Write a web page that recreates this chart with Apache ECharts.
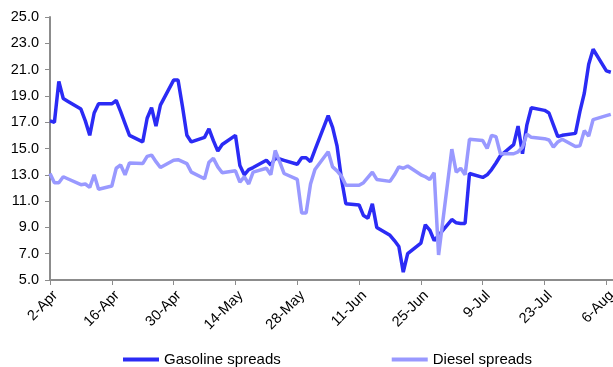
<!DOCTYPE html>
<html>
<head>
<meta charset="utf-8">
<script src="https://cdn.jsdelivr.net/npm/echarts@6/dist/echarts.min.js"></script>
<style>
  html, body { margin: 0; padding: 0; background: #fff; }
  #chart { width: 613px; height: 367px; }
</style>
</head>
<body>
<div id="chart"></div>
<script>
// trading days, 2012
const dates = [
  '2-Apr', '3-Apr', '4-Apr', '5-Apr', '6-Apr', '9-Apr', '10-Apr', '11-Apr', '12-Apr', '13-Apr',
  '16-Apr', '17-Apr', '18-Apr', '19-Apr', '20-Apr', '23-Apr', '24-Apr', '25-Apr', '26-Apr', '27-Apr', '30-Apr',
  '1-May', '2-May', '3-May', '4-May', '7-May', '8-May', '9-May', '10-May', '11-May',
  '14-May', '15-May', '16-May', '17-May', '18-May', '21-May', '22-May', '23-May', '24-May', '25-May',
  '28-May', '29-May', '30-May', '31-May',
  '1-Jun', '4-Jun', '5-Jun', '6-Jun', '7-Jun', '8-Jun', '11-Jun', '12-Jun', '13-Jun', '14-Jun', '15-Jun',
  '18-Jun', '19-Jun', '20-Jun', '21-Jun', '22-Jun', '25-Jun', '26-Jun', '27-Jun', '28-Jun', '29-Jun',
  '2-Jul', '3-Jul', '4-Jul', '5-Jul', '6-Jul', '9-Jul', '10-Jul', '11-Jul', '12-Jul', '13-Jul',
  '16-Jul', '17-Jul', '18-Jul', '19-Jul', '20-Jul', '23-Jul', '24-Jul', '25-Jul', '26-Jul', '27-Jul',
  '30-Jul', '31-Jul',
  '1-Aug', '2-Aug', '3-Aug', '6-Aug', '7-Aug'
];

const gasoline = [
  17.1, 17.0, 20.1, 18.8, 18.6, 18.0, 17.1, 16.0, 17.7, 18.4,
  18.4, 18.65, 17.8, 16.9, 16.0, 15.5, 17.3, 18.1, 16.7, 18.3, 20.2,
  20.2, 18.2, 16.0, 15.5, 15.85, 16.5, 15.6, 14.8, 15.3,
  16.0, 13.7, 13.0, 13.4, 13.55, 14.1, 13.75, 14.25, 14.2, 14.1,
  13.8, 14.3, 14.3, 14.0,
  14.9, 17.5, 16.6, 15.2, 12.7, 10.8, 10.7, 9.9, 9.7, 10.8, 9.0,
  8.4, 8.0, 7.55, 5.6, 7.0, 7.8, 9.2, 8.8, 8.0, 8.4,
  9.6, 9.35, 9.3, 9.3, 13.1, 12.8, 13.0, 13.4, 13.9, 14.45,
  15.3, 16.7, 14.6, 16.8, 18.1, 17.9, 17.7, 16.8, 15.9, 16.0,
  16.15, 17.8,
  19.2, 21.4, 22.55, 20.9, 20.8
];

const diesel = [
  13.1, 12.4, 12.4, 12.85, 12.7, 12.25, 12.3, 12.05, 13.0, 11.9,
  12.15, 13.5, 13.75, 13.0, 13.9, 13.85, 14.4, 14.5, 14.0, 13.55, 14.1,
  14.15, 14.0, 13.85, 13.2, 12.7, 13.95, 14.25, 13.6, 13.15,
  13.3, 12.45, 12.85, 12.3, 13.2, 13.5, 13.0, 14.85, 14.0, 13.1,
  12.65, 10.1, 10.1, 12.3,
  13.4, 14.75, 13.6, 13.3, 12.9, 12.2, 12.2, 12.4, 12.8, 13.2, 12.65,
  12.5, 13.0, 13.6, 13.5, 13.67, 13.0, 12.85, 12.65, 13.15, 6.9,
  14.95, 13.2, 13.5, 13.0, 15.7, 15.6, 15.0, 16.0, 15.9, 14.6,
  14.6, 14.75, 15.1, 16.1, 15.85, 15.75, 15.65, 15.1, 15.5, 15.7,
  15.15, 15.2,
  16.35, 15.95, 17.2, 17.5, 17.6
];

const months = ['Jan', 'Feb', 'Mar', 'Apr', 'May', 'Jun', 'Jul', 'Aug', 'Sep', 'Oct', 'Nov', 'Dec'];
const DAY = 86400000;
const start = Date.UTC(2012, 3, 2);

// '16-Apr' -> days since 2-Apr
const toDay = (s) => {
  const [d, m] = s.split('-');
  return Math.round((Date.UTC(2012, months.indexOf(m), +d) - start) / DAY);
};
const dayLabel = (v) => {
  const dt = new Date(start + v * DAY);
  return dt.getUTCDate() + '-' + months[dt.getUTCMonth()];
};

const pairs = (vals) => dates.map((s, i) => [toDay(s), vals[i]]);

const font = 'Liberation Sans, Arial, sans-serif';
const axisGrey = '#8c8c8c';

const chart = echarts.init(document.getElementById('chart'));
chart.setOption({
  animation: false,
  grid: { left: 50, right: 0, top: 17, bottom: 87, containLabel: false, outerBoundsMode: 'none' },
  legend: {
    left: 118,
    top: 347,
    icon: 'rect',
    itemWidth: 36,
    itemHeight: 4,
    itemGap: 111,
    textStyle: { fontFamily: font, fontSize: 15, color: '#000' },
    data: ['Gasoline spreads', 'Diesel spreads']
  },
  xAxis: {
    type: 'value',
    min: 0,
    max: 127.5,
    interval: 14,
    axisLine: { lineStyle: { color: axisGrey, width: 2 } },
    axisTick: { show: true, length: 5, lineStyle: { color: axisGrey, width: 1 } },
    splitLine: { show: false },
    axisLabel: {
      rotate: 45,
      margin: 8,
      verticalAlign: 'top',
      fontFamily: font,
      fontSize: 14.5,
      color: '#000',
      showMaxLabel: false,
      formatter: (v) => (v % 14 === 0 ? dayLabel(v) : '')
    }
  },
  yAxis: {
    type: 'value',
    min: 5,
    max: 25,
    interval: 2,
    axisLine: { show: true, lineStyle: { color: axisGrey, width: 2 } },
    axisTick: { show: true, length: 5, lineStyle: { color: axisGrey, width: 1 } },
    splitLine: { show: false },
    axisLabel: {
      margin: 11,
      fontFamily: font,
      fontSize: 14.5,
      color: '#000',
      formatter: (v) => v.toFixed(1)
    }
  },
  series: [
    {
      name: 'Gasoline spreads',
      type: 'line',
      data: pairs(gasoline),
      showSymbol: false,
      lineStyle: { color: '#2b2bf5', width: 3.5 },
      itemStyle: { color: '#2b2bf5' }
    },
    {
      name: 'Diesel spreads',
      type: 'line',
      data: pairs(diesel),
      showSymbol: false,
      lineStyle: { color: '#9999ff', width: 3.5 },
      itemStyle: { color: '#9999ff' }
    }
  ]
});
</script>
</body>
</html>
